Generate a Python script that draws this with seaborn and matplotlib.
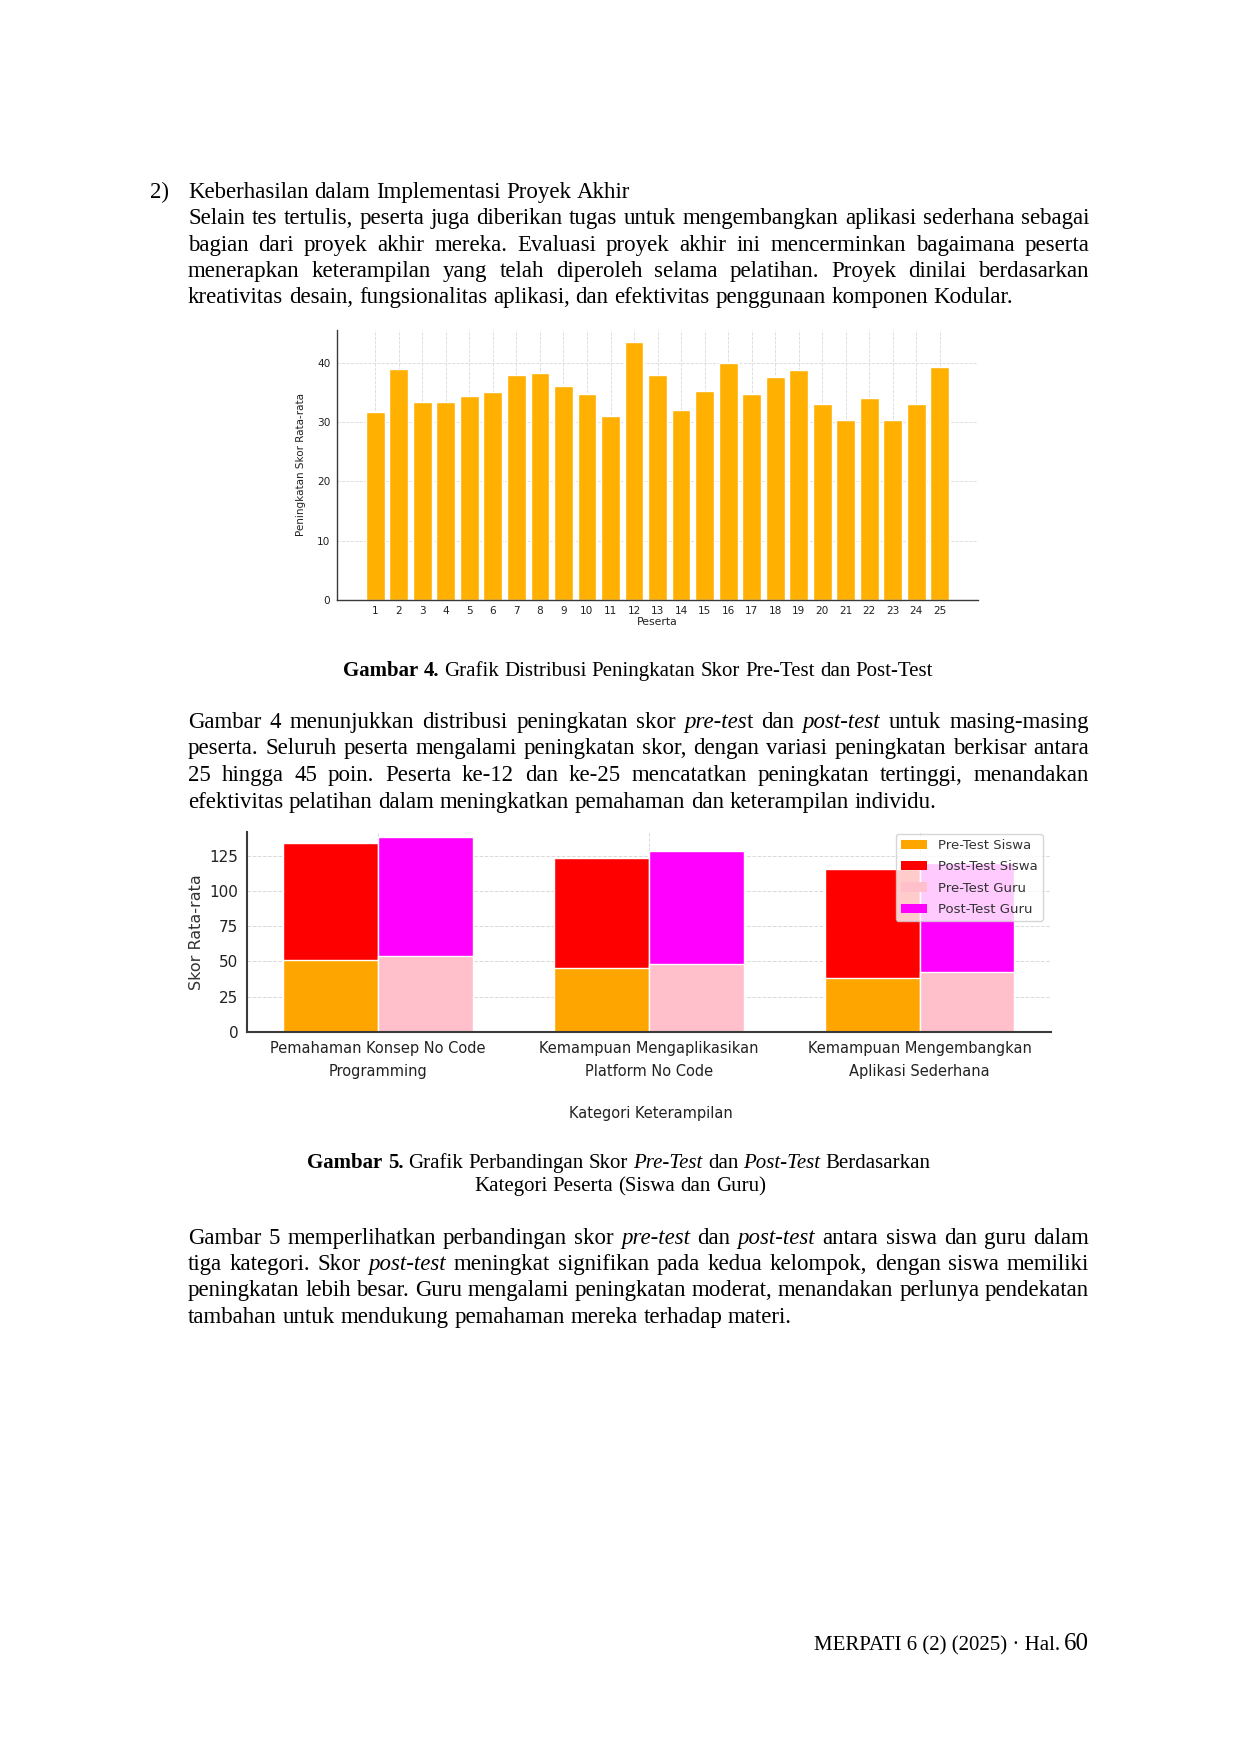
import numpy as np
import pandas as pd
import matplotlib
matplotlib.use("Agg")
import matplotlib.pyplot as plt
import seaborn as sns
from matplotlib.patches import Patch

# ---------------- data ----------------
peserta = list(range(1, 26))
peningkatan = [31.7, 39.0, 33.3, 33.3, 34.3, 35.0, 38.0, 38.3, 36.0, 34.7,
               31.0, 43.4, 38.0, 32.0, 35.3, 40.0, 34.7, 37.6, 38.7, 33.0,
               30.3, 34.0, 30.3, 33.0, 39.3]

kategori = ["Pemahaman Konsep No Code\nProgramming",
            "Kemampuan Mengaplikasikan\nPlatform No Code",
            "Kemampuan Mengembangkan\nAplikasi Sederhana"]
pre_siswa = [51.2, 45.2, 38.3]
post_siswa = [83.3, 78.4, 77.2]
pre_guru = [53.6, 48.1, 42.6]
post_guru = [85.2, 80.2, 77.4]
legend_labels = ["Pre-Test Siswa", "Post-Test Siswa", "Pre-Test Guru", "Post-Test Guru"]

# ---------------- figure ----------------
sns.set_theme(style="white")
plt.rcParams["font.family"] = ["DejaVu Sans"]
W, H = 1240, 1754
fig = plt.figure(figsize=(W / 100, H / 100), dpi=100)
fig.patch.set_facecolor("white")


def ax_rect(l, t, r, b):
    return [l / W, 1 - b / H, (r - l) / W, (b - t) / H]


SPINE = "#3a3a3a"
GRID = "#d9d9d9"

# ---------------- chart 1 ----------------
ax1 = fig.add_axes(ax_rect(336.7, 330, 978.4, 600))
df1 = pd.DataFrame({"Peserta": peserta, "Peningkatan": peningkatan})
sns.barplot(data=df1, x="Peserta", y="Peningkatan", color="#FFB000",
            saturation=1, width=0.8, ax=ax1, zorder=2)
ax1.set_xlim(-1.64, 25.64)
ax1.set_ylim(0, 45.5)
ax1.set_yticks([0, 10, 20, 30, 40])
ax1.grid(True, axis="both", color=GRID, linestyle="--", linewidth=0.6)
ax1.set_axisbelow(True)
for s in ["top", "right"]:
    ax1.spines[s].set_visible(False)
for s in ["left", "bottom"]:
    ax1.spines[s].set_color(SPINE)
    ax1.spines[s].set_linewidth(1.0)
ax1.tick_params(axis="both", labelsize=7.6, colors="#222222", length=2.5,
                width=0.6, pad=2)
ax1.set_xlabel("Peserta", fontsize=7.8, color="#222222")
ax1.set_ylabel("Peningkatan Skor Rata-rata", fontsize=7.5, color="#222222")
ax1.xaxis.set_label_coords(0.5, -0.064)
ax1.yaxis.set_label_coords(-0.048, 0.5)

# ---------------- chart 2 ----------------
ax2 = fig.add_axes(ax_rect(246.7, 831.7, 1051, 1031.7))
df2 = pd.DataFrame({
    "Kategori": kategori * 2,
    "Kelompok": ["Siswa"] * 3 + ["Guru"] * 3,
    "Pre": pre_siswa + pre_guru,
    "Post": post_siswa + post_guru,
})
df2["Total"] = df2["Pre"] + df2["Post"]
sns.barplot(data=df2, x="Kategori", y="Total", hue="Kelompok",
            hue_order=["Siswa", "Guru"],
            palette={"Siswa": "#FF0000", "Guru": "#FF00FF"},
            width=0.7, saturation=1, ax=ax2, legend=False, zorder=2)
sns.barplot(data=df2, x="Kategori", y="Pre", hue="Kelompok",
            hue_order=["Siswa", "Guru"],
            palette={"Siswa": "#FFA500", "Guru": "#FFC0CB"},
            width=0.7, saturation=1, ax=ax2, legend=False, zorder=2)
ax2.set_xlim(-0.485, 2.485)
ax2.set_ylim(0, 142.3)
ax2.set_yticks([0, 25, 50, 75, 100, 125])
ax2.grid(True, axis="both", color=GRID, linestyle="--", linewidth=0.7)
ax2.set_axisbelow(True)
for s in ["top", "right"]:
    ax2.spines[s].set_visible(False)
for s in ["left", "bottom"]:
    ax2.spines[s].set_color(SPINE)
    ax2.spines[s].set_linewidth(1.5)
ax2.tick_params(axis="y", labelsize=11, colors="#222222", length=3, width=0.8, pad=3)
ax2.tick_params(axis="x", labelsize=10.5, colors="#222222", length=3, width=0.8, pad=4)
for lab in ax2.get_xticklabels():
    lab.set_linespacing(1.65)
ax2.set_xlabel("Kategori Keterampilan", fontsize=10.5, color="#222222")
ax2.set_ylabel("Skor Rata-rata", fontsize=11.5, color="#333333")
ax2.xaxis.set_label_coords(0.503, -0.372)
ax2.yaxis.set_label_coords(-0.053, 0.5)
colors2 = ["#FFA500", "#FF0000", "#FFC0CB", "#FF00FF"]
handles = [Patch(facecolor=c, edgecolor="none", label=l) for c, l in zip(colors2, legend_labels)]
leg = ax2.legend(handles=handles, loc="upper right", bbox_to_anchor=(0.99, 0.9885),
                 borderaxespad=0, fontsize=9.5, framealpha=0.8, edgecolor="#cccccc",
                 fancybox=True, labelspacing=0.62)
for t in leg.get_texts():
    t.set_color("#333333")

# ---------------- page text ----------------
renderer = fig.canvas.get_renderer()
SERIF = "Liberation Serif"
BODY = 16.5
CAP = 15.0
X0, X1 = 188, 1089
DY = 2.5


def parse(line):
    words, cur, buf = [], [], ""
    italic = bold = False

    def flush():
        nonlocal buf
        if buf:
            cur.append((buf, italic, bold))
            buf = ""

    for ch in line:
        if ch == "_":
            flush(); italic = not italic
        elif ch == "^":
            flush(); bold = not bold
        elif ch == " ":
            flush()
            if cur:
                words.append(cur)
            cur = []
        else:
            buf += ch
    flush()
    if cur:
        words.append(cur)
    return words


def make_word(word, size):
    objs, width = [], 0.0
    for txt, it, bd in word:
        t = fig.text(0, 0, txt, fontsize=size, family=SERIF,
                     fontstyle="italic" if it else "normal",
                     fontweight="bold" if bd else "normal",
                     color="black", va="baseline", ha="left")
        w = t.get_window_extent(renderer).width
        objs.append((t, width))
        width += w
    return objs, width


def draw_line(line, y, size=BODY, x0=X0, x1=X1, mode="left"):
    y = float(round(y + DY))
    words = parse(line)
    built = [make_word(w, size) for w in words]
    widths = [b[1] for b in built]
    space = 0.25 * size * 100 / 72
    total = sum(widths)
    if mode == "justify" and len(words) > 1:
        gap = (x1 - x0 - total) / (len(words) - 1)
        start = x0
    else:
        gap = space
        full = total + gap * (len(words) - 1)
        if mode == "center":
            start = (x0 + x1) / 2 - full / 2
        elif mode == "right":
            start = x1 - full
        else:
            start = x0
    x = start
    for (objs, w) in built:
        for t, off in objs:
            t.set_position(((x + off) / W, (H - y) / H))
        x += w + gap


# Section 2)
draw_line("2)", 196, x0=150)
draw_line("Keberhasilan dalam Implementasi Proyek Akhir", 196)
draw_line("Selain tes tertulis, peserta juga diberikan tugas untuk mengembangkan aplikasi sederhana sebagai", 222, mode="justify")
draw_line("bagian dari proyek akhir mereka. Evaluasi proyek akhir ini mencerminkan bagaimana peserta", 248.5, mode="justify")
draw_line("menerapkan keterampilan yang telah diperoleh selama pelatihan. Proyek dinilai berdasarkan", 274.5, mode="justify")
draw_line("kreativitas desain, fungsionalitas aplikasi, dan efektivitas penggunaan komponen Kodular.", 300.5)

# Caption 4
draw_line("^Gambar 4.^ Grafik Distribusi Peningkatan Skor Pre-Test dan Post-Test", 674,
          size=CAP, x0=343, x1=933, mode="center")

# Paragraph after figure 4
draw_line("Gambar 4 menunjukkan distribusi peningkatan skor _pre-tes_t dan _post-test_ untuk masing-masing", 726, mode="justify")
draw_line("peserta. Seluruh peserta mengalami peningkatan skor, dengan variasi peningkatan berkisar antara", 752, mode="justify")
draw_line("25 hingga 45 poin. Peserta ke-12 dan ke-25 mencatatkan peningkatan tertinggi, menandakan", 778.5, mode="justify")
draw_line("efektivitas pelatihan dalam meningkatkan pemahaman dan keterampilan individu.", 805)

# Caption 5
draw_line("^Gambar 5.^ Grafik Perbandingan Skor _Pre-Test_ dan _Post-Test_ Berdasarkan", 1165,
          size=CAP, x0=307, x1=931, mode="center")
draw_line("Kategori Peserta (Siswa dan Guru)", 1188.5, size=CAP, x0=475, x1=765, mode="center")

# Paragraph after figure 5
draw_line("Gambar 5 memperlihatkan perbandingan skor _pre-test_ dan _post-test_ antara siswa dan guru dalam", 1241, mode="justify")
draw_line("tiga kategori. Skor _post-test_ meningkat signifikan pada kedua kelompok, dengan siswa memiliki", 1267.5, mode="justify")
draw_line("peningkatan lebih besar. Guru mengalami peningkatan moderat, menandakan perlunya pendekatan", 1294, mode="justify")
draw_line("tambahan untuk mendukung pemahaman mereka terhadap materi.", 1320.5)

# Footer
yf = float(round(1647 + DY))
t60 = fig.text(1089 / W, (H - yf) / H, "60", fontsize=18, family=SERIF,
               ha="right", va="baseline", color="black")
w60 = t60.get_window_extent(renderer).width
fig.text((1089 - w60 - 4) / W, (H - yf) / H, "MERPATI 6 (2) (2025) \u00b7 Hal.",
         fontsize=15, family=SERIF, ha="right", va="baseline", color="black")

fig.savefig("out.png", dpi=100, facecolor="white")
